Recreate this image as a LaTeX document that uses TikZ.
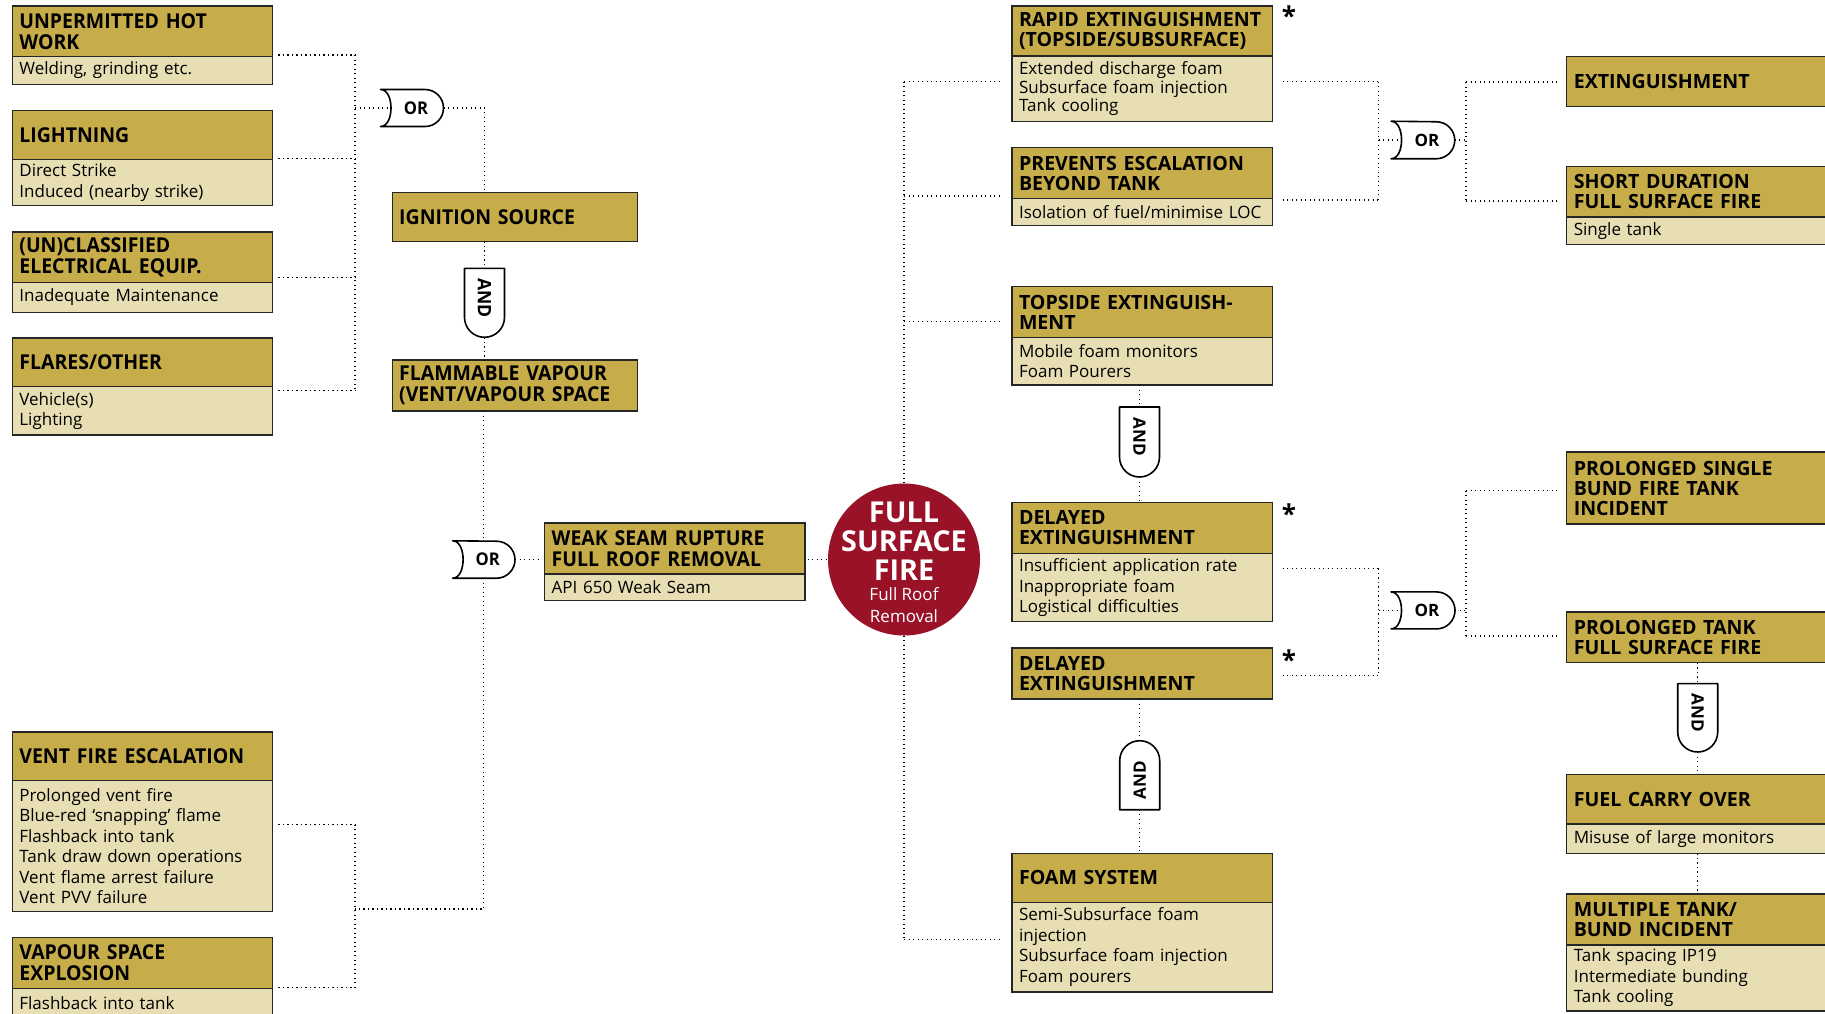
\documentclass[tikz,border=0pt]{standalone}
\usepackage{fontspec}
\setmainfont{Open Sans}
\newfontfamily\wf{Open Sans}
\newfontfamily\cf[FakeStretch=0.95]{Open Sans}
\usetikzlibrary{calc}

\definecolor{gold}{HTML}{C6AD4A}
\definecolor{pale}{HTML}{E7DEB4}
\definecolor{fire}{HTML}{9A1228}

\tikzset{
  conn/.style={line width=1.2pt, dash pattern=on 1.2pt off 3.3pt, black},
  hdr/.style={draw=black!85, line width=1.3pt, fill=gold, rectangle, anchor=north west,
    align=left, inner xsep=7pt, inner ysep=1pt, outer sep=0pt},
  bdy/.style={draw=black!85, line width=1.3pt, fill=pale, rectangle, anchor=north west,
    align=left, inner xsep=7pt, inner ysep=1pt, outer sep=0pt},
  chead/.style={font=\cf\bfseries\fontsize{20.5}{21}\selectfont},
  cbody/.style={font=\wf\fontsize{17}{20.5}\selectfont},
  whead/.style={font=\wf\bfseries\fontsize{19.6}{20}\selectfont},
  wbody/.style={font=\wf\fontsize{17}{20.5}\selectfont},
  gatebox/.style={rectangle, inner sep=0pt, outer sep=0pt},
  gateline/.style={line width=1.6pt, fill=white, line join=round, draw=black},
  corgate/.style={font=\cf\bfseries\fontsize{17.5}{17.5}\selectfont, inner sep=0pt},
  candgate/.style={font=\cf\bfseries\fontsize{18.5}{18.5}\selectfont, inner sep=0pt},
  wgate/.style={font=\wf\bfseries\fontsize{17}{17}\selectfont, inner sep=0pt},
  star/.style={font=\wf\bfseries\fontsize{26}{26}\selectfont, inner sep=0pt},
}

% box with a header and a body
\newcommand{\twobox}[9]{%
  \pgfmathsetmacro\tw{#4-14}%
  \node[hdr,#9head,text width=\tw pt,minimum height=#5pt] (#1) at (#2,#3) {#6};
  \node[bdy,#9body,text width=\tw pt,minimum height=#7pt] (#1-b) at (#1.south west) {#8};
}
% box with a header only
\newcommand{\onebox}[7]{%
  \pgfmathsetmacro\tw{#4-14}%
  \node[hdr,#7head,text width=\tw pt,minimum height=#5pt] (#1) at (#2,#3) {#6};
}
% OR gate: concave back, round front
\newcommand{\orshape}[1]{%
  \draw[gateline] (#1.north west)
    .. controls ([xshift=14pt]#1.north west) and ([xshift=14pt]#1.south west) .. (#1.south west)
    -- ([xshift=-18.5pt]#1.south east) arc[start angle=-90,end angle=90,radius=18.5pt] -- cycle;}
% AND gate, flat top, round bottom
\newcommand{\anddown}[1]{%
  \draw[gateline] ([yshift=20pt]#1.south west) -- (#1.north west) -- (#1.north east)
    -- ([yshift=20pt]#1.south east) arc[start angle=0,end angle=-180,radius=20pt] -- cycle;}
% AND gate, round top, flat bottom
\newcommand{\andup}[1]{%
  \draw[gateline] (#1.south west) -- ([yshift=-20pt]#1.north west)
    arc[start angle=180,end angle=0,radius=20pt] -- (#1.south east) -- cycle;}

\begin{document}
\begin{tikzpicture}[x=1pt,y=-1pt]
\useasboundingbox (0,0) rectangle (1825,1013);
\fill[white] (0,0) rectangle (1825,1013);
\clip (0,0) rectangle (1825,1013);

% ---------- boxes: left columns ----------
\twobox{hot}{12.4}{6}{260}{50.7}{UNPERMITTED~HOT\\WORK}{27.6}{Welding, grinding etc.}{c}
\twobox{light}{12.4}{110.7}{260}{48.6}{LIGHTNING}{46.4}{Direct Strike\\Induced (nearby strike)}{c}
\twobox{uncl}{12.4}{232}{260}{50.7}{(UN)CLASSIFIED\\ELECTRICAL~EQUIP.}{29.6}{Inadequate~Maintenance}{c}
\twobox{flare}{12.4}{338}{260}{48.7}{FLARES/OTHER}{48.3}{Vehicle(s)\\Lighting}{c}
\twobox{vent}{12.4}{731.9}{260}{48.4}{VENT~FIRE~ESCALATION}{131.1}{Prolonged vent fire\\Blue-red ‘snapping’ flame\\Flashback into tank\\Tank draw down operations\\Vent flame arrest failure\\Vent PVV failure}{c}
\twobox{vap}{12.4}{937.6}{260}{51}{VAPOUR SPACE\\EXPLOSION}{29}{Flashback into tank}{c}
\onebox{ign}{392.2}{192.3}{245.4}{49}{IGNITION~SOURCE}{c}
\onebox{flam}{392.2}{360}{245.4}{51}{FLAMMABLE~VAPOUR\\(VENT/VAPOUR~SPACE}{c}
\twobox{weak}{544.7}{522.9}{260.3}{51}{WEAK~SEAM~RUPTURE\\FULL~ROOF~REMOVAL}{26.9}{API 650 Weak Seam}{c}

% ---------- boxes: right columns ----------
\twobox{rapid}{1012}{6}{260.7}{50}{RAPID~EXTINGUISHMENT\\(TOPSIDE/SUBSURFACE)}{65.7}{Extended discharge foam\\[-1.9pt]Subsurface foam injection\\[-1.9pt]Tank cooling}{w}
\twobox{prev}{1012}{147.7}{260.7}{50.6}{PREVENTS~ESCALATION\\BEYOND TANK}{27}{Isolation~of~fuel/minimise~LOC}{w}
\twobox{tops}{1012}{286.7}{260.7}{50.6}{TOPSIDE~EXTINGUISH-\\MENT}{47.7}{Mobile foam monitors\\Foam Pourers}{w}
\twobox{del1}{1012}{502.5}{260.7}{51}{DELAYED\\EXTINGUISHMENT}{68.1}{Insufficient~application~rate\\Inappropriate foam\\Logistical difficulties}{w}
\onebox{del2}{1012}{648}{260.7}{51}{DELAYED\\EXTINGUISHMENT}{w}
\twobox{foam}{1012}{853.4}{260.7}{48.8}{FOAM SYSTEM}{89.7}{Semi-Subsurface foam\\injection\\Subsurface~foam~injection\\Foam pourers}{w}
\onebox{ext}{1566.8}{56.2}{313}{50.3}{EXTINGUISHMENT}{w}
\twobox{short}{1566.8}{166.4}{313}{50.6}{SHORT DURATION\\FULL SURFACE FIRE}{27.4}{Single tank}{w}
\onebox{psing}{1566.8}{452.1}{313}{71.9}{PROLONGED SINGLE\\BUND FIRE TANK\\INCIDENT}{w}
\onebox{ptank}{1566.8}{612.1}{313}{50.7}{PROLONGED TANK\\FULL SURFACE FIRE}{w}
\twobox{fuel}{1566.8}{774.4}{313}{49.6}{FUEL CARRY OVER}{29.4}{Misuse of large monitors}{w}
\twobox{multi}{1566.8}{893.9}{313}{51.1}{MULTIPLE TANK/\\BUND INCIDENT}{66.1}{Tank spacing IP19\\Intermediate bunding\\Tank cooling}{w}

% ---------- top event ----------
\node[circle, fill=fire, minimum size=152pt, inner sep=0pt] (fsf) at (904,559.5) {};
\node[font=\wf\bfseries\fontsize{28.8}{29}\selectfont, text=white, align=center, inner sep=0pt] (fsf-t) at (904,541) {FULL\\SURFACE\\FIRE};
\node[font=\wf\fontsize{17}{21.3}\selectfont, text=white, align=center, inner sep=0pt] (fsf-s) at (904,605) {Full Roof\\Removal};

% ---------- gates ----------
\node[gatebox, minimum width=63pt, minimum height=37pt] (or1) at (412,108) {};
\node[gatebox, minimum width=62.4pt, minimum height=37.4pt] (or2) at (483.8,559.5) {};
\node[gatebox, minimum width=63.7pt, minimum height=37.5pt] (or3) at (1422.9,140) {};
\node[gatebox, minimum width=64pt, minimum height=37pt] (or4) at (1423,610.4) {};
\node[gatebox, minimum width=40pt, minimum height=69pt] (and1) at (484.5,302.8) {};
\node[gatebox, minimum width=40pt, minimum height=70pt] (and2) at (1139.5,442) {};
\node[gatebox, minimum width=40pt, minimum height=69pt] (and3) at (1139.7,775.2) {};
\node[gatebox, minimum width=40pt, minimum height=68.4pt] (and4) at (1697.7,717.8) {};

% ---------- connectors: ignition branch ----------
\coordinate (ua) at (355,55);
\coordinate (ub) at (355,158.3);
\coordinate (uc) at (355,277.3);
\coordinate (ud) at (355,390.7);
\draw[conn,shorten <=6pt] (hot.east |- ua) -- (ua);
\draw[conn,shorten <=6pt] (light.east |- ub) -- (ub);
\draw[conn,shorten <=6pt] (uncl.east |- uc) -- (uc);
\draw[conn,shorten <=6pt] (flare.east |- ud) -- (ud);
\draw[conn] (ua) -- (ud);
\draw[conn] (ua |- or1.west) -- ([xshift=9pt]or1.west);
\draw[conn] (or1.east) -| (ign.north -| and1.north);
\draw[conn] (ign.south -| and1.north) -- (and1.north);
\draw[conn] (and1.south) -- (flam.north -| and1.south);
\draw[conn] (flam.south -| or2.north) -- (or2.north);

% ---------- connectors: vent / vapour branch ----------
\coordinate (la) at (355,824.5);
\coordinate (lb) at (355,987.5);
\coordinate (lj) at (355,908.9);
\draw[conn,shorten <=6pt] (vent.east |- la) -- (la);
\draw[conn,shorten <=6pt] (vap.east |- lb) -- (lb);
\draw[conn] (la) -- (lb);
\draw[conn] (or2.south) |- (lj);
\draw[conn,shorten >=2.7pt] (or2.east) -- (weak.west |- or2.east);
\draw[conn,shorten <=2.6pt,shorten >=1.5pt] (weak.east |- fsf.west) -- (fsf.west);

% ---------- connectors: mitigation branch ----------
\coordinate (ra) at (904,81.7);
\coordinate (rb) at (904,196);
\coordinate (rc) at (904,321.7);
\coordinate (rd) at (904,939.3);
\draw[conn] (fsf.north) -- (ra);
\draw[conn] (fsf.south) -- (rd);
\draw[conn,shorten >=10pt] (ra) -- (rapid.west |- ra);
\draw[conn,shorten >=10pt] (rb) -- (prev.west |- rb);
\draw[conn,shorten >=10pt] (rc) -- (tops.west |- rc);
\draw[conn,shorten >=10pt] (rd) -- (foam.west |- rd);
\draw[conn] (tops-b.south -| and2.north) -- (and2.north);
\draw[conn] (and2.south) -- (del1.north -| and2.south);
\draw[conn] (del2.south -| and3.north) -- (and3.north);
\draw[conn] (and3.south) -- (foam.north -| and3.south);

% ---------- connectors: outcomes ----------
\coordinate (sa) at (1378.7,81.7);
\coordinate (sb) at (1378.7,200);
\coordinate (ta) at (1466,82);
\coordinate (tb) at (1466,201);
\draw[conn,shorten <=10pt] (rapid.east |- sa) -- (sa);
\draw[conn,shorten <=10pt] (prev.east |- sb) -- (sb);
\draw[conn] (sa) -- (sb);
\draw[conn] (sa |- or3.west) -- ([xshift=9pt]or3.west);
\draw[conn] (or3.east) -- (ta |- or3.east);
\draw[conn] (ta) -- (tb);
\draw[conn,shorten >=9pt] (ta) -- (ext.west |- ta);
\draw[conn,shorten >=9pt] (tb) -- (short.west |- tb);

\coordinate (sc) at (1378.7,568.3);
\coordinate (sd) at (1378.7,675.7);
\coordinate (tc) at (1466,490.7);
\coordinate (td) at (1466,636);
\draw[conn,shorten <=10pt] (del1.east |- sc) -- (sc);
\draw[conn,shorten <=10pt] (del2.east |- sd) -- (sd);
\draw[conn] (sc) -- (sd);
\draw[conn] (sc |- or4.west) -- ([xshift=9pt]or4.west);
\draw[conn] (or4.east) -- (tc |- or4.east);
\draw[conn] (tc) -- (td);
\draw[conn,shorten >=9pt] (tc) -- (psing.west |- tc);
\draw[conn,shorten >=9pt] (td) -- (ptank.west |- td);
\draw[conn] (ptank.south -| and4.north) -- (and4.north);
\draw[conn] (and4.south) -- (fuel.north -| and4.south);
\draw[conn] (fuel-b.south -| and4.south) -- (multi.north -| and4.south);

% ---------- gate outlines and labels ----------
\orshape{or1}
\orshape{or2}
\orshape{or3}
\orshape{or4}
\anddown{and1}
\anddown{and2}
\andup{and3}
\anddown{and4}
\node[corgate] (or1-t) at ([xshift=4pt]or1.center) {OR};
\node[corgate] (or2-t) at ([xshift=4pt]or2.center) {OR};
\node[wgate] (or3-t) at ([xshift=4pt]or3.center) {OR};
\node[wgate] (or4-t) at ([xshift=4pt]or4.center) {OR};
\node[candgate,rotate=-90] (and1-t) at ([yshift=5pt]and1.center) {AND};
\node[wgate,rotate=-90] (and2-t) at ([yshift=5pt]and2.center) {AND};
\node[wgate,rotate=90] (and3-t) at ([yshift=-5pt]and3.center) {AND};
\node[wgate,rotate=-90] (and4-t) at ([yshift=5pt]and4.center) {AND};

% ---------- markers ----------
\node[star] (st1) at (1289,16) {*};
\node[star] (st2) at (1289,514) {*};
\node[star] (st3) at (1289,659.5) {*};
\end{tikzpicture}
\end{document}
